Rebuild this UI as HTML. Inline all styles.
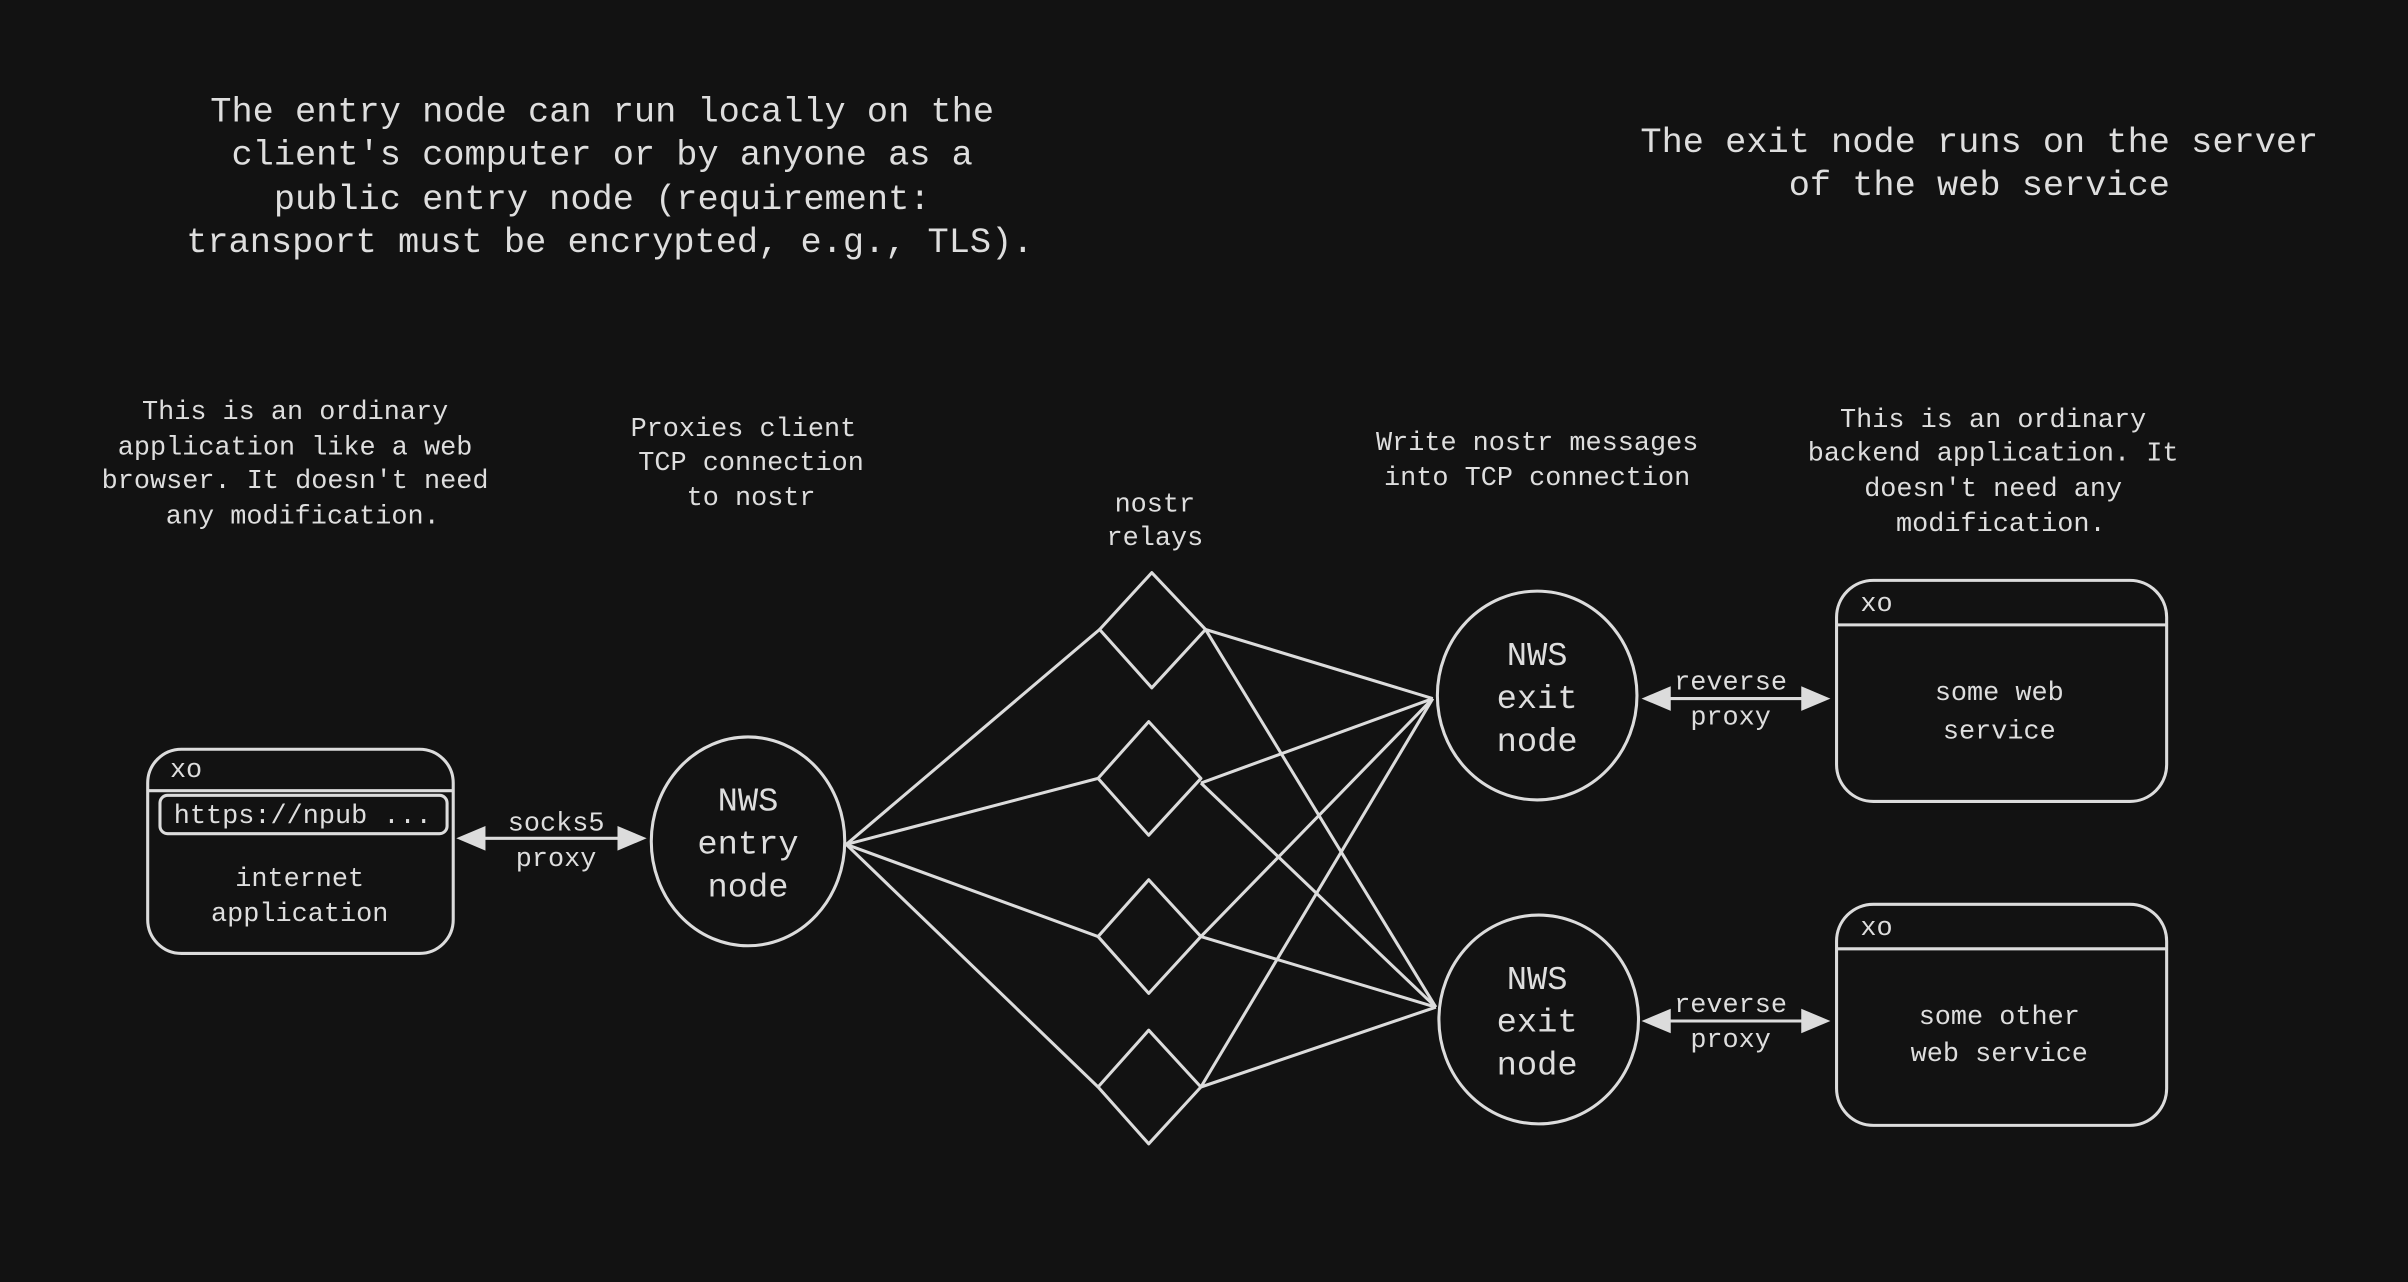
<!DOCTYPE html>
<html><head><meta charset="utf-8"><style>
html,body{margin:0;padding:0;background:#121212;}
svg{display:block}
text{font-family:"Liberation Mono","DejaVu Sans Mono",monospace;fill:#dedede;text-anchor:middle}
</style></head><body>
<svg width="2408" height="1282" viewBox="0 0 1568 835" xmlns="http://www.w3.org/2000/svg">
<rect width="1568" height="835" fill="#121212"/>
<g font-size="23">
<text x="392" y="79">The entry node can run locally on the</text>
<text x="392" y="107">client's computer or by anyone as a</text>
<text x="392" y="136">public entry node (requirement:</text>
<text x="397" y="164">transport must be encrypted, e.g., TLS).</text>
<text x="1289" y="99">The exit node runs on the server</text>
<text x="1289" y="127">of the web service</text>
</g>
<g font-size="17.5">
<text x="192" y="273">This is an ordinary</text>
<text x="192" y="296">application like a web</text>
<text x="192" y="318">browser. It doesn't need</text>
<text x="197" y="341">any modification.</text>
<text x="484" y="284">Proxies client</text>
<text x="489" y="306">TCP connection</text>
<text x="489" y="329">to nostr</text>
<text x="752" y="333">nostr</text>
<text x="752" y="355">relays</text>
<text x="1001" y="293">Write nostr messages</text>
<text x="1001" y="316">into TCP connection</text>
<text x="1298" y="278">This is an ordinary</text>
<text x="1298" y="300">backend application. It</text>
<text x="1298" y="323">doesn't need any</text>
<text x="1303" y="346">modification.</text>
<text x="362" y="541">socks5</text>
<text x="362" y="564">proxy</text>
<text x="1127" y="449">reverse</text>
<text x="1127" y="472">proxy</text>
<text x="1127" y="659">reverse</text>
<text x="1127" y="682">proxy</text>
<text x="195" y="577">internet</text>
<text x="195" y="600">application</text>
<text x="1302" y="456">some web</text>
<text x="1302" y="481">service</text>
<text x="1302" y="667">some other</text>
<text x="1302" y="691">web service</text>
<text x="121" y="506">xo</text>
<text x="1222" y="398">xo</text>
<text x="1222" y="609">xo</text>
<text x="197" y="536">https://npub ...</text>
</g>
<g font-size="22">
<text x="487" y="528">NWS</text><text x="487" y="556">entry</text><text x="487" y="584">node</text>
<text x="1001" y="433">NWS</text><text x="1001" y="461">exit</text><text x="1001" y="489">node</text>
<text x="1001" y="644">NWS</text><text x="1001" y="672">exit</text><text x="1001" y="700">node</text>
</g>
<g fill="none" stroke="#dcdcdc" stroke-width="2" stroke-linejoin="round">
<rect x="96" y="488" width="199" height="133" rx="22"/>
<line x1="96" y1="515" x2="295" y2="515"/>
<rect x="104" y="518" width="187" height="25" rx="5"/>
<rect x="1196" y="378" width="215" height="144" rx="24"/>
<line x1="1196" y1="407" x2="1411" y2="407"/>
<rect x="1196" y="589" width="215" height="144" rx="24"/>
<line x1="1196" y1="618" x2="1411" y2="618"/>
<ellipse cx="487" cy="548" rx="63" ry="68"/>
<ellipse cx="1001" cy="453" rx="65" ry="68"/>
<ellipse cx="1002" cy="664" rx="65" ry="68"/>
<path d="M750 373 L785 410 L750 448 L716 410 Z"/>
<path d="M748 470 L782 507 L748 544 L715 507 Z"/>
<path d="M748 573 L782 610 L748 647 L715 610 Z"/>
<path d="M748 671 L782 708 L748 745 L715 708 Z"/>
<line x1="551" y1="550" x2="716" y2="410"/>
<line x1="551" y1="550" x2="715" y2="507"/>
<line x1="551" y1="550" x2="715" y2="610"/>
<line x1="551" y1="550" x2="715" y2="708"/>
<line x1="785" y1="410" x2="933" y2="455"/>
<line x1="785" y1="410" x2="935" y2="656"/>
<line x1="782" y1="510" x2="933" y2="455"/>
<line x1="782" y1="510" x2="935" y2="656"/>
<line x1="782" y1="610" x2="933" y2="455"/>
<line x1="782" y1="610" x2="935" y2="656"/>
<line x1="782" y1="708" x2="933" y2="455"/>
<line x1="782" y1="708" x2="935" y2="656"/>
<line x1="310" y1="546" x2="408" y2="546"/>
<line x1="1082" y1="455" x2="1178" y2="455"/>
<line x1="1082" y1="665" x2="1178" y2="665"/>
</g>
<g fill="#dcdcdc">
<path d="M297 546 L316 538 L316 554 Z"/><path d="M421 546 L402 538 L402 554 Z"/>
<path d="M1069 455 L1088 447 L1088 463 Z"/><path d="M1192 455 L1173 447 L1173 463 Z"/>
<path d="M1069 665 L1088 657 L1088 673 Z"/><path d="M1192 665 L1173 657 L1173 673 Z"/>
</g>
</svg>
</body></html>
